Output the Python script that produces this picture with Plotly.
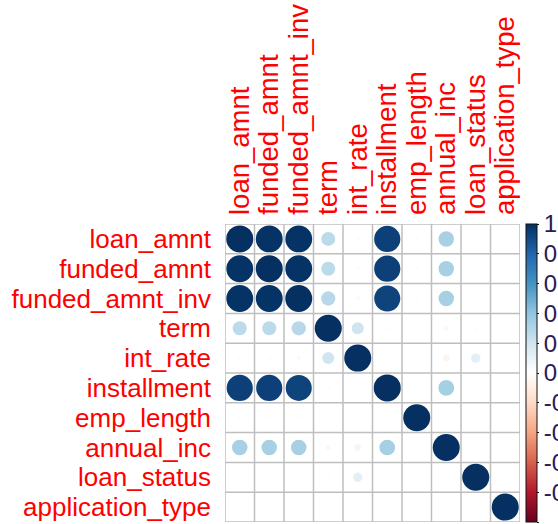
import numpy as np
import plotly.graph_objects as go

variables = ["loan_amnt", "funded_amnt", "funded_amnt_inv", "term", "int_rate",
             "installment", "emp_length", "annual_inc", "loan_status", "application_type"]

row_loan_amnt        = [1.00, 0.99, 0.99, 0.27, 0.02, 0.94, 0.02, 0.33, -0.01, 0.01]
row_funded_amnt      = [0.99, 1.00, 0.99, 0.27, 0.02, 0.94, 0.02, 0.33, -0.01, 0.01]
row_funded_amnt_inv  = [0.99, 0.99, 1.00, 0.28, 0.03, 0.93, 0.02, 0.33, 0.01, 0.01]
row_term             = [0.27, 0.27, 0.28, 1.00, 0.20, 0.02, 0.01, 0.04, -0.02, 0.01]
row_int_rate         = [0.02, 0.02, 0.03, 0.20, 1.00, 0.01, 0.01, -0.06, 0.12, 0.01]
row_installment      = [0.94, 0.94, 0.93, 0.02, 0.01, 1.00, 0.01, 0.34, 0.01, 0.01]
row_emp_length       = [0.02, 0.02, 0.02, 0.01, 0.01, 0.01, 1.00, 0.01, 0.01, 0.01]
row_annual_inc       = [0.33, 0.33, 0.33, 0.04, -0.06, 0.34, 0.01, 1.00, 0.01, 0.01]
row_loan_status      = [-0.01, -0.01, 0.01, -0.02, 0.12, 0.01, 0.01, 0.01, 1.00, 0.01]
row_application_type = [0.01, 0.01, 0.01, 0.01, 0.01, 0.01, 0.01, 0.01, 0.01, 1.00]

corr_rows = [row_loan_amnt, row_funded_amnt, row_funded_amnt_inv, row_term, row_int_rate,
             row_installment, row_emp_length, row_annual_inc, row_loan_status, row_application_type]

colorbar_vals = [-1, -0.8, -0.6, -0.4, -0.2, 0, 0.2, 0.4, 0.6, 0.8, 1]
colorbar_text = ["-1", "-0.8", "-0.6", "-0.4", "-0.2", "0", "0.2", "0.4", "0.6", "0.8", "1"]

palette = ["#67001F", "#B2182B", "#D6604D", "#F4A582", "#FDDBC7", "#FFFFFF",
           "#D1E5F0", "#92C5DE", "#4393C3", "#2166AC", "#053061"]
colorscale = [[i / (len(palette) - 1), c] for i, c in enumerate(palette)]

n = len(variables)
xs, ys, vals = [], [], []
for i, row in enumerate(corr_rows):
    for j, v in enumerate(row):
        xs.append(j)
        ys.append(i)
        vals.append(v)
vals = np.array(vals)
max_diam = 27.0
sizes = max_diam * np.sqrt(np.abs(vals))

fig = go.Figure()
fig.add_trace(go.Scatter(
    x=xs, y=ys, mode="markers",
    marker=dict(
        size=sizes, color=vals, colorscale=colorscale, cmin=-1, cmax=1,
        opacity=1,
        line=dict(width=0),
        colorbar=dict(
            x=1.0203, xanchor="left", xpad=0, ypad=0,
            y=0.5, yanchor="middle", len=1, lenmode="fraction",
            thickness=11, thicknessmode="pixels",
            outlinewidth=1, outlinecolor="#111111",
            tickvals=colorbar_vals, ticktext=colorbar_text,
            ticks="outside", ticklen=2, tickcolor="#111111",
            tickfont=dict(size=24, color="#2a1a55", family="Liberation Sans Narrow, Liberation Sans, Arial"),
        ),
    ),
    hoverinfo="skip",
    showlegend=False,
))

grid_color = "#BEBEBE"
shapes = []
for k in range(n + 1):
    pos = k - 0.5
    shapes.append(dict(type="line", xref="x", yref="y", x0=pos, x1=pos, y0=-0.5, y1=n - 0.5,
                       line=dict(color=grid_color, width=1.5), layer="below"))
    shapes.append(dict(type="line", xref="x", yref="y", x0=-0.5, x1=n - 0.5, y0=pos, y1=pos,
                       line=dict(color=grid_color, width=1.5), layer="below"))

left_font = dict(size=26, color="red", family="Liberation Sans, Arial")
top_font = dict(size=27.5, color="red", family="Liberation Sans, Arial")

fig.update_layout(
    width=558, height=524,
    margin=dict(l=225, r=38, t=224, b=2, autoexpand=False),
    paper_bgcolor="white", plot_bgcolor="white",
    shapes=shapes,
    xaxis=dict(
        range=[-0.5, n - 0.5], side="top", tickvals=list(range(n)), ticktext=variables,
        tickangle=-90, tickfont=top_font, showgrid=False, zeroline=False, showline=False,
        ticks="", ticklabelstandoff=8, automargin=False, fixedrange=True,
    ),
    yaxis=dict(
        range=[n - 0.5, -0.5], tickvals=list(range(n)), ticktext=variables,
        tickfont=left_font, showgrid=False, zeroline=False, showline=False,
        ticks="", ticklabelstandoff=13, automargin=False, fixedrange=True,
    ),
)

fig.write_html(
    "out.html",
    config={"displayModeBar": False},
    post_script="document.body.style.margin='0';document.body.style.overflow='hidden';",
)
